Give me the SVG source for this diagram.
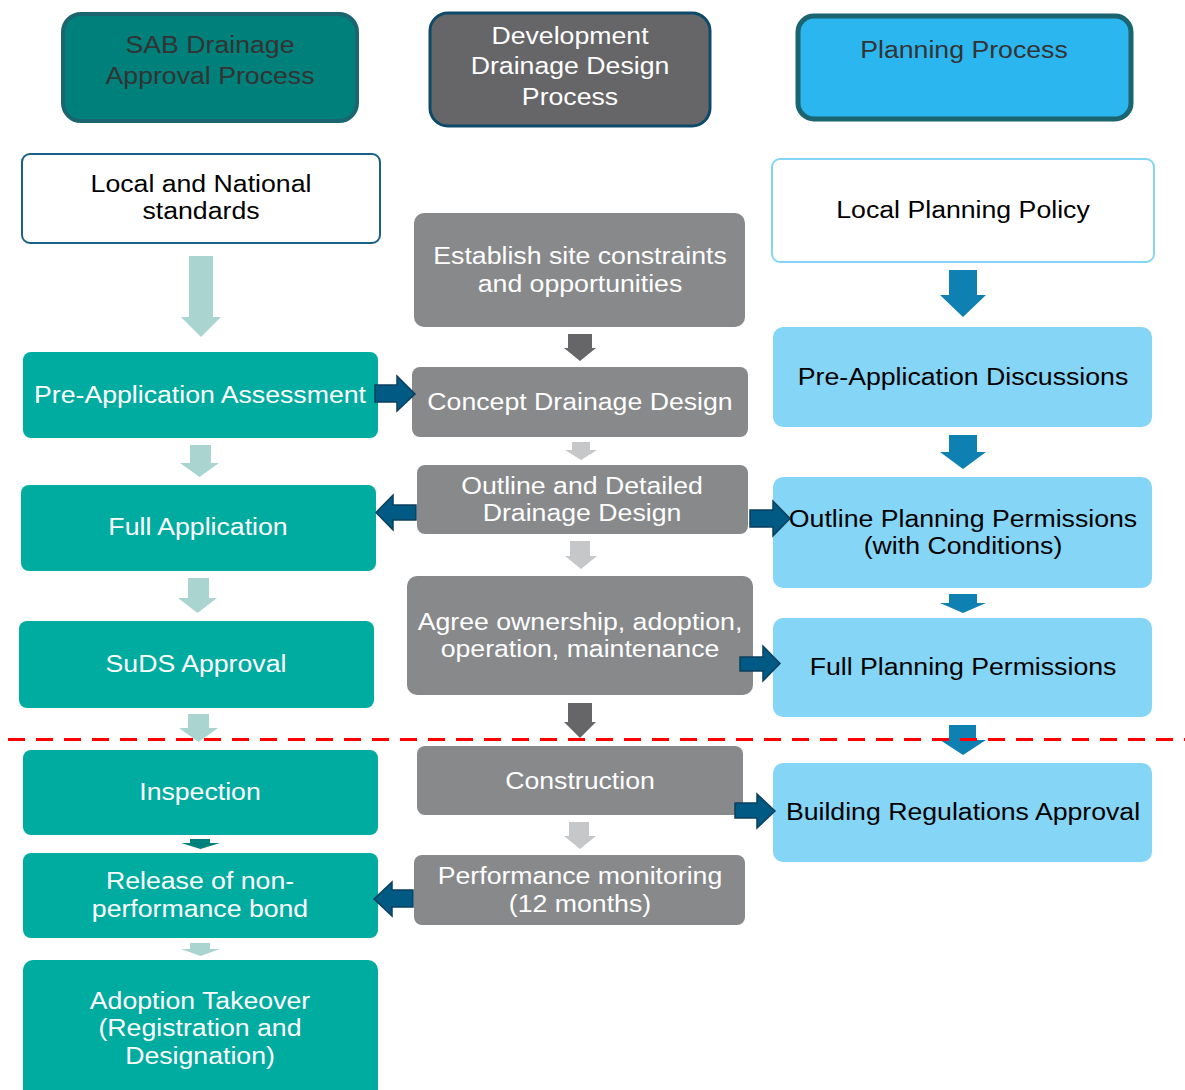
<svg xmlns="http://www.w3.org/2000/svg" width="1185" height="1090" viewBox="0 0 1185 1090">
<style>
text{font-family:"Liberation Sans",Arial,sans-serif;font-size:23px;text-anchor:middle}
.w{fill:#ffffff}
.k{fill:#000000}
.d{fill:#333333}
.teal{fill:#00ac9f}
.gray{fill:#88898b}
.blue{fill:#85d5f7}
.ha{fill:#005a84;stroke:#0d3f5e;stroke-width:1.5}
</style>
<rect width="1185" height="1090" fill="#ffffff"/>
<g id="sab-header"><rect x="63" y="14" width="294" height="107" rx="18" fill="#00807a" stroke="#1a6570" stroke-width="4"/><g transform="translate(210 0) scale(1.16 1)"><text class="d" x="0" y="53">SAB Drainage</text><text class="d" x="0" y="84">Approval Process</text></g></g>
<g id="dev-header"><rect x="430" y="13" width="280" height="113" rx="18" fill="#666668" stroke="#0d4a6a" stroke-width="3"/><g transform="translate(570 0) scale(1.16 1)"><text class="w" x="0" y="44">Development</text><text class="w" x="0" y="74">Drainage Design</text><text class="w" x="0" y="105">Process</text></g></g>
<g id="plan-header"><rect x="798" y="16" width="333" height="103" rx="16" fill="#2cb6f0" stroke="#1a6570" stroke-width="5"/><g transform="translate(964 0) scale(1.16 1)"><text class="d" x="0" y="58">Planning Process</text></g></g>
<g id="standards"><rect x="22" y="154" width="358" height="89" rx="8" fill="#ffffff" stroke="#1a5f85" stroke-width="2"/><g transform="translate(201 0) scale(1.16 1)"><text class="k" x="0" y="192">Local and National</text><text class="k" x="0" y="219">standards</text></g></g>
<g id="policy"><rect x="772" y="159" width="382" height="103" rx="8" fill="#ffffff" stroke="#85d5f7" stroke-width="2"/><g transform="translate(963 0) scale(1.16 1)"><text class="k" x="0" y="218">Local Planning Policy</text></g></g>
<g id="establish"><rect class="gray" x="414" y="213" width="331" height="114" rx="10"/><g transform="translate(580 0) scale(1.16 1)"><text class="w" x="0" y="264">Establish site constraints</text><text class="w" x="0" y="292">and opportunities</text></g></g>
<g id="preapp-assess"><rect class="teal" x="23" y="352" width="355" height="86" rx="8"/><g transform="translate(200 0) scale(1.16 1)"><text class="w" x="0" y="403">Pre-Application Assessment</text></g></g>
<g id="concept"><rect class="gray" x="412" y="367" width="336" height="70" rx="8"/><g transform="translate(580 0) scale(1.16 1)"><text class="w" x="0" y="410">Concept Drainage Design</text></g></g>
<g id="preapp-disc"><rect class="blue" x="773" y="327" width="379" height="100" rx="10"/><g transform="translate(963 0) scale(1.16 1)"><text class="k" x="0" y="385">Pre-Application Discussions</text></g></g>
<g id="outline-design"><rect class="gray" x="417" y="465" width="331" height="69" rx="8"/><g transform="translate(582 0) scale(1.16 1)"><text class="w" x="0" y="494">Outline and Detailed</text><text class="w" x="0" y="521">Drainage Design</text></g></g>
<g id="full-app"><rect class="teal" x="21" y="485" width="355" height="86" rx="8"/><g transform="translate(198 0) scale(1.16 1)"><text class="w" x="0" y="535">Full Application</text></g></g>
<g id="outline-perm"><rect class="blue" x="773" y="477" width="379" height="111" rx="10"/><g transform="translate(963 0) scale(1.16 1)"><text class="k" x="0" y="527">Outline Planning Permissions</text><text class="k" x="0" y="554">(with Conditions)</text></g></g>
<g id="agree"><rect class="gray" x="407" y="576" width="346" height="119" rx="10"/><g transform="translate(580 0) scale(1.16 1)"><text class="w" x="0" y="630">Agree ownership, adoption,</text><text class="w" x="0" y="657">operation, maintenance</text></g></g>
<g id="suds"><rect class="teal" x="19" y="621" width="355" height="87" rx="8"/><g transform="translate(196 0) scale(1.16 1)"><text class="w" x="0" y="672">SuDS Approval</text></g></g>
<g id="full-perm"><rect class="blue" x="773" y="618" width="379" height="99" rx="10"/><g transform="translate(963 0) scale(1.16 1)"><text class="k" x="0" y="675">Full Planning Permissions</text></g></g>
<g id="inspection"><rect class="teal" x="23" y="750" width="355" height="85" rx="8"/><g transform="translate(200 0) scale(1.16 1)"><text class="w" x="0" y="800">Inspection</text></g></g>
<g id="construction"><rect class="gray" x="417" y="746" width="326" height="69" rx="8"/><g transform="translate(580 0) scale(1.16 1)"><text class="w" x="0" y="789">Construction</text></g></g>
<g id="building-regs"><rect class="blue" x="773" y="763" width="379" height="99" rx="10"/><g transform="translate(963 0) scale(1.16 1)"><text class="k" x="0" y="820">Building Regulations Approval</text></g></g>
<g id="release"><rect class="teal" x="23" y="853" width="355" height="85" rx="8"/><g transform="translate(200 0) scale(1.16 1)"><text class="w" x="0" y="889">Release of non-</text><text class="w" x="0" y="917">performance bond</text></g></g>
<g id="performance"><rect class="gray" x="414" y="855" width="331" height="70" rx="8"/><g transform="translate(580 0) scale(1.16 1)"><text class="w" x="0" y="884">Performance monitoring</text><text class="w" x="0" y="912">(12 months)</text></g></g>
<g id="adoption"><rect class="teal" x="23" y="960" width="355" height="140" rx="10"/><g transform="translate(200 0) scale(1.16 1)"><text class="w" x="0" y="1009">Adoption Takeover</text><text class="w" x="0" y="1036">(Registration and</text><text class="w" x="0" y="1064">Designation)</text></g></g>
<g id="connectors">
<polygon points="189,256 213,256 213,317 221,317 201,337 181,317 189,317" fill="#aad4cf"/>
<polygon points="190,445 211,445 211,463 219,463 199.5,477 180,463 190,463" fill="#aad4cf"/>
<polygon points="188,578 209,578 209,598 217,598 197.5,613 178,598 188,598" fill="#aad4cf"/>
<polygon points="188,714 209,714 209,728 218,728 198.5,742 179,728 188,728" fill="#aad4cf"/>
<polygon points="190,839 210,839 210,843 220,843 200.5,849 181,843 190,843" fill="#00807a"/>
<polygon points="190,943 210,943 210,949 220,949 200.5,956 181,949 190,949" fill="#aad4cf"/>
<polygon points="568,334 592,334 592,348 596,348 580,361 564,348 568,348" fill="#666668"/>
<polygon points="572,442 590,442 590,450 597,450 581,460 565,450 572,450" fill="#c6c7c9"/>
<polygon points="570,541 590,541 590,556 597,556 581,569 565,556 570,556" fill="#c6c7c9"/>
<polygon points="568,703 592,703 592,722 596,722 580,738 564,722 568,722" fill="#666668"/>
<polygon points="569,822 589,822 589,836 596,836 580,849 564,836 569,836" fill="#c6c7c9"/>
<polygon points="949,270 977,270 977,295 986,295 963,317 940,295 949,295" fill="#0e80b2"/>
<polygon points="949,435 977,435 977,452 986,452 963,469 940,452 949,452" fill="#0e80b2"/>
<polygon points="949,594 977,594 977,603 986,603 963,613 940,603 949,603" fill="#0e80b2"/>
<polygon points="949,725 976,725 976,740 986,740 963,755 940,740 949,740" fill="#0e80b2"/>
<polygon class="ha" points="375,385 397,385 397,376 415,394 397,411 397,402 375,402"/>
<polygon class="ha" points="416,505 393,505 393,495 376,512.5 393,530 393,520 416,520"/>
<polygon class="ha" points="750,510 773,510 773,501 790,518.5 773,536 773,527 750,527"/>
<polygon class="ha" points="740,657 763,657 763,646 780,663.5 763,681 763,671 740,671"/>
<polygon class="ha" points="735,803 757,803 757,794 775,811 757,828 757,818 735,818"/>
<polygon class="ha" points="413,890 392,890 392,882 374,899 392,916 392,907 413,907"/>
</g>
<line x1="8" y1="739.5" x2="1185" y2="739.5" stroke="#ff0000" stroke-width="3" stroke-dasharray="17,11"/>
</svg>
